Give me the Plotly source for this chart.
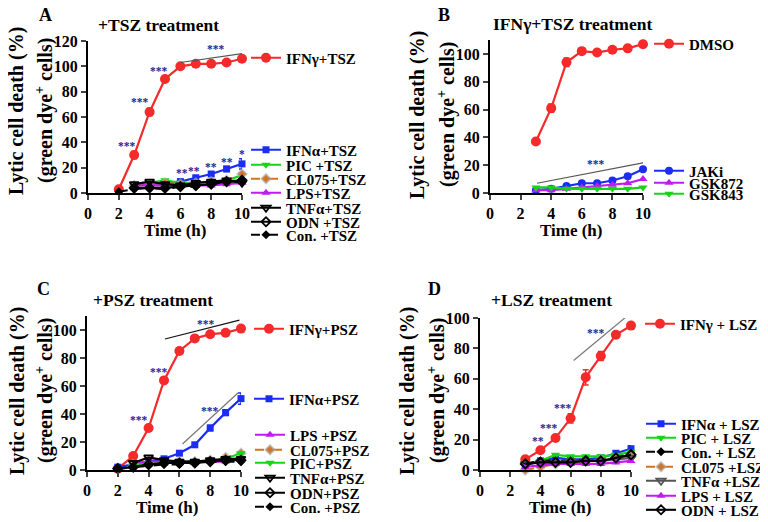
import plotly.graph_objects as go

# page body adds an 8px margin; the figure fills the rest of the 768x522 window
OFF = 8
W, H = 768 - OFF, 522 - OFF
FONT = "Liberation Serif"

def px(x):
    return (x - OFF) / W

def py(y):
    return 1 - (y - OFF) / H

# ---------------- data ----------------
T2 = [2, 3, 4, 5, 6, 7, 8, 9, 10]
T3 = [3, 4, 5, 6, 7, 8, 9, 10]
X_TICKS = [0, 2, 4, 6, 8, 10]

# Panel A (+TSZ)
A_ifng = [3, 30, 64, 90, 100, 102, 102, 103, 106]
A_ifng_err = [1, 3, 3, 2, 2, 1, 1, 1, 2]
A_ifna = [6, 7, 8, 9, 12, 15, 19, 23]
A_ifna_err = [1, 1, 1, 1, 1, 1, 2, 4]
A_pic = [7, 8, 10, 8, 8, 9, 10, 14]
A_cl075 = [6, 7, 8, 7, 8, 9, 10, 15]
A_lps = [6, 6, 6, 6, 6, 6, 7, 8]
A_tnfa = [7, 9, 7, 6, 8, 9, 10, 8]
A_odn = [4, 4, 4, 5, 6, 7, 9, 10]
A_con = [1, 3, 4, 3, 5, 5, 7, 9, 10]

# Panel B (IFNγ+TSZ)
B_dmso = [37, 61, 94, 102, 101, 103, 104, 107]
B_dmso_err = [2, 3, 3, 1, 1, 1, 1, 1]
B_jaki = [2, 3, 5, 7, 7, 9, 12, 17]
B_gsk872 = [2, 2, 3, 4, 5, 6, 7, 10]
B_gsk843 = [4, 4, 3, 3, 3, 3, 3, 4]

# Panel C (+PSZ)
C_ifng = [1, 10, 30, 64, 85, 94, 97, 98, 101]
C_ifng_err = [1, 2, 2, 2, 2, 1, 1, 1, 1]
C_ifna = [2, 4, 6, 8, 12, 18, 30, 41, 51]
C_ifna_err = [1, 1, 1, 1, 1, 1, 2, 2, 4]
C_lps = [5, 6, 6, 6, 6, 6, 6, 9]
C_cl075 = [4, 4, 5, 6, 6, 7, 9, 12]
C_pic = [3, 4, 5, 6, 6, 6, 8, 12]
C_tnfa = [5, 9, 7, 6, 6, 7, 8, 8]
C_odn = [1, 2, 4, 5, 5, 5, 6, 7, 7]
C_con = [1, 2, 3, 4, 4, 5, 6, 6, 6]

# Panel D (+LSZ)
D_ifng = [7, 13, 21, 34, 61, 75, 89, 95]
D_ifng_err = [1, 1, 2, 3, 5, 3, 1, 1]
D_ifna = [3, 6, 8, 7, 7, 8, 11, 14]
D_ifna_err = [1, 1, 1, 1, 1, 1, 1, 2]
D_pic = [4, 6, 10, 9, 9, 9, 10, 12]
D_con = [4, 6, 6, 6, 7, 7, 8, 11]
D_cl075 = [0, 2, 4, 5, 6, 7, 8, 9]
D_tnfa = [4, 5, 5, 6, 6, 6, 7, 8]
D_lps = [2, 3, 4, 4, 4, 4, 5, 6]
D_odn = [4, 5, 5, 5, 6, 6, 8, 10]

# significance marks: (x, y, text)
A_stars = [(2.5, 37, "***"), (3.4, 72, "***"), (4.6, 96, "***"), (8.3, 114, "***"),
           (6.1, 16, "**"), (6.9, 17, "**"), (8.0, 20.5, "**"), (9.0, 24.5, "**"), (10.0, 31, "*")]
B_stars = [(6.9, 21, "***")]
C_stars = [(3.4, 36, "***"), (4.7, 70, "***"), (7.7, 104, "***"), (8.0, 42, "***")]
D_stars = [(3.84, 19, "**"), (4.6, 27.6, "***"), (5.5, 41, "***"), (7.7, 90, "***")]
# bracket lines: (x0, y0, x1, y1, color)
A_lines = [(6, 103, 10, 110, "#555555")]
B_lines = [(3.07, 7, 10, 21.6, "#555555")]
C_lines = [(5.06, 93.6, 9.9, 107, "#111111"), (6.2, 18.6, 9.8, 55, "#777777")]
D_lines = [(6.2, 72, 9.9, 102.6, "#777777")]

# ---------------- styles ----------------
RED = "#F52A2A"
BLUE = "#1A2CF5"
GREEN = "#14D614"
ORANGE = "#D27324"
PURPLE = "#C21AF0"
BLACK = "#000000"
GRAY = "#555555"

STY = {
    "ifng": dict(color=RED, symbol="circle", size=10, dash="solid"),
    "ifna": dict(color=BLUE, symbol="square", size=7, dash="solid"),
    "jaki": dict(color=BLUE, symbol="circle", size=8, dash="solid"),
    "pic": dict(color=GREEN, symbol="triangle-down", size=8, dash="solid"),
    "cl075": dict(color=ORANGE, symbol="diamond", size=7, dash="dash", halo=True),
    "lps": dict(color=PURPLE, symbol="triangle-up", size=8, dash="solid"),
    "tnfa": dict(color=BLACK, symbol="triangle-down-open", size=8, dash="solid"),
    "tnfa_g": dict(color=GRAY, symbol="triangle-down-open", size=8, dash="solid"),
    "odn": dict(color=BLACK, symbol="diamond-open", size=7, dash="solid"),
    "con": dict(color=BLACK, symbol="diamond", size=7, dash="dash"),
}

fig = go.Figure()
legends = {}
leg_count = [0]

def add(panel, name, x, y, style, lx, ly, err=None):
    s = STY[style]
    leg_count[0] += 1
    n = leg_count[0]
    lkey = "legend" if n == 1 else f"legend{n}"
    axn = {"A": "", "B": "2", "C": "3", "D": "4"}[panel]
    marker = dict(color=s["color"], symbol=s["symbol"], size=s["size"])
    if s.get("halo"):
        marker["line"] = dict(color="rgba(170,170,170,0.6)", width=2)
    elif "open" in s["symbol"]:
        marker["line"] = dict(color=s["color"], width=1.8)
    else:
        marker["line"] = dict(color=s["color"], width=0)
    tr = go.Scatter(
        x=x, y=y, name=name, mode="lines+markers",
        line=dict(color=s["color"], width=2.2, dash=s["dash"]),
        marker=marker, cliponaxis=False,
        xaxis="x" + axn, yaxis="y" + axn, legend=lkey,
    )
    if err is not None:
        tr.error_y = dict(type="data", array=err, color=s["color"], thickness=1.5, width=3)
    fig.add_trace(tr)
    legends[lkey] = dict(
        x=px(lx - 41), y=py(ly), xanchor="left", yanchor="middle",
        bgcolor="rgba(0,0,0,0)", borderwidth=0, itemwidth=30,
        font=dict(family=FONT, size=15, color="black", weight="bold"),
        tracegroupgap=0, itemclick=False, itemdoubleclick=False,
    )

# Panel A
add("A", "IFNγ+TSZ", T2, A_ifng, "ifng", 287, 58, A_ifng_err)
add("A", "IFNα+TSZ", T3, A_ifna, "ifna", 287, 150, A_ifna_err)
add("A", "PIC +TSZ", T3, A_pic, "pic", 287, 165)
add("A", "CL075+TSZ", T3, A_cl075, "cl075", 287, 179)
add("A", "LPS+TSZ", T3, A_lps, "lps", 287, 193)
add("A", "TNFα+TSZ", T3, A_tnfa, "tnfa", 287, 208)
add("A", "ODN +TSZ", T3, A_odn, "odn", 287, 222)
add("A", "Con. +TSZ", T2, A_con, "con", 287, 235)

# Panel B
add("B", "DMSO", T3, B_dmso, "ifng", 690, 44, B_dmso_err)
add("B", "JAKi", T3, B_jaki, "jaki", 690, 171)
add("B", "GSK872", T3, B_gsk872, "lps", 690, 183)
add("B", "GSK843", T3, B_gsk843, "pic", 690, 194)

# Panel C
add("C", "IFNγ+PSZ", T2, C_ifng, "ifng", 290, 329, C_ifng_err)
add("C", "IFNα+PSZ", T2, C_ifna, "ifna", 290, 399, C_ifna_err)
add("C", "LPS +PSZ", T3, C_lps, "lps", 291, 435)
add("C", "CL075+PSZ", T3, C_cl075, "cl075", 291, 450)
add("C", "PIC+PSZ", T3, C_pic, "pic", 291, 463)
add("C", "TNFα+PSZ", T3, C_tnfa, "tnfa", 291, 478)
add("C", "ODN+PSZ", T2, C_odn, "odn", 291, 493)
add("C", "Con. +PSZ", T2, C_con, "con", 291, 507)

# Panel D
add("D", "IFNγ + LSZ", T3, D_ifng, "ifng", 681, 324, D_ifng_err)
add("D", "IFNα + LSZ", T3, D_ifna, "ifna", 682, 424, D_ifna_err)
add("D", "PIC + LSZ", T3, D_pic, "pic", 682, 438)
add("D", "Con. + LSZ", T3, D_con, "con", 682, 452)
add("D", "CL075 +LSZ", T3, D_cl075, "cl075", 682, 467)
add("D", "TNFα +LSZ", T3, D_tnfa, "tnfa_g", 682, 481)
add("D", "LPS + LSZ", T3, D_lps, "lps", 682, 496)
add("D", "ODN + LSZ", T3, D_odn, "odn", 682, 510)

# ---------------- axes ----------------
tickfont = dict(family=FONT, size=16, color="black", weight="bold")

def xax(dom, anchor):
    return dict(domain=dom, range=[0, 10], tickvals=X_TICKS, ticks="outside", ticklen=5,
                tickwidth=2, showline=True, linewidth=2, linecolor="black", showgrid=False,
                zeroline=False, tickfont=tickfont, anchor=anchor, fixedrange=True)

def yax(dom, rng, dtick, anchor):
    return dict(domain=dom, range=rng, dtick=dtick, ticks="outside", ticklen=5,
                tickwidth=2, showline=True, linewidth=2, linecolor="black", showgrid=False,
                zeroline=False, tickfont=tickfont, anchor=anchor, fixedrange=True)

layout = dict(
    width=W, height=H, margin=dict(l=0, r=0, t=0, b=0, autoexpand=False),
    paper_bgcolor="white", plot_bgcolor="white", showlegend=True,
    xaxis=xax([px(88), px(242)], "y"),
    yaxis=yax([py(193), py(41)], [0, 120], 20, "x"),
    xaxis2=xax([px(490), px(643)], "y2"),
    yaxis2=yax([py(193), py(40)], [0, 110], 20, "x2"),
    xaxis3=xax([px(87), px(241)], "y3"),
    yaxis3=yax([py(470), py(316)], [0, 110], 20, "x3"),
    xaxis4=xax([px(480), px(631)], "y4"),
    yaxis4=yax([py(470), py(318)], [0, 100], 20, "x4"),
)
layout.update(legends)
fig.update_layout(**layout)

# ---------------- annotations ----------------
ann = []
def text(x, y, s, size, angle=0):
    ann.append(dict(x=px(x), y=py(y), xref="paper", yref="paper", text=s, showarrow=False,
                    textangle=angle, xanchor="center", yanchor="middle",
                    font=dict(family=FONT, size=size, color="black", weight="bold")))

text(45, 15, "A", 18)
text(444, 15, "B", 18)
text(43, 289, "C", 18)
text(434, 289, "D", 18)
text(158, 25, "+TSZ treatment", 17.5)
text(572, 24, "IFNγ+TSZ treatment", 17.5)
text(153, 300, "+PSZ treatment", 17.5)
text(551, 300, "+LSZ treatment", 17.5)
for (x1, x2, yc) in [(17, 45, 111), (417, 446, 115), (17, 44, 391), (407, 436, 391)]:
    text(x1, yc, "Lytic cell death (%)", 20, -90)
    text(x2, yc, "(green dye<sup>+</sup> cells)", 20, -90)
text(175, 230, "Time (h)", 17)
text(571, 230, "Time (h)", 17)
text(167, 507, "Time (h)", 17)
text(560, 507, "Time (h)", 17)

for axn, stars in [("", A_stars), ("2", B_stars), ("3", C_stars), ("4", D_stars)]:
    for (x, y, s) in stars:
        ann.append(dict(x=x, y=y, xref="x" + axn, yref="y" + axn, text=s, showarrow=False,
                        font=dict(family=FONT, size=11.5, color="#1F1F8F", weight="bold")))

shapes = []
for axn, lines in [("", A_lines), ("2", B_lines), ("3", C_lines), ("4", D_lines)]:
    for (x0, y0, x1, y1, c) in lines:
        shapes.append(dict(type="line", x0=x0, y0=y0, x1=x1, y1=y1, xref="x" + axn,
                           yref="y" + axn, line=dict(color=c, width=1.2)))

fig.update_layout(annotations=ann, shapes=shapes)
fig.write_html("out.html")
